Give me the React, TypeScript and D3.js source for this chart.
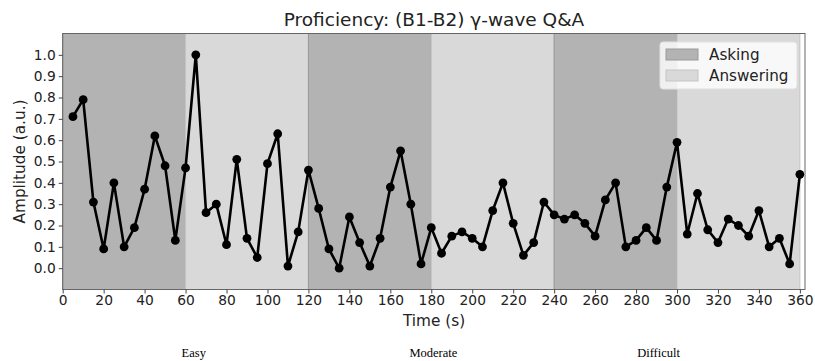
import React, { useEffect, useRef } from 'react';
import * as d3 from 'd3';

// time stamps (s) and amplitudes
const times = [5, 10, 15, 20, 25, 30, 35, 40, 45, 50, 55, 60, 65, 70, 75, 80, 85, 90, 95, 100, 105, 110, 115, 120,
  125, 130, 135, 140, 145, 150, 155, 160, 165, 170, 175, 180, 185, 190, 195, 200, 205, 210, 215, 220, 225, 230, 235, 240,
  245, 250, 255, 260, 265, 270, 275, 280, 285, 290, 295, 300, 305, 310, 315, 320, 325, 330, 335, 340, 345, 350, 355, 360];
const amplitude = [0.71, 0.79, 0.31, 0.09, 0.40, 0.10, 0.19, 0.37, 0.62, 0.48, 0.13, 0.47, 1.00, 0.26, 0.30, 0.11, 0.51, 0.14, 0.05, 0.49, 0.63, 0.01, 0.17, 0.46,
  0.28, 0.09, 0.00, 0.24, 0.12, 0.01, 0.14, 0.38, 0.55, 0.30, 0.02, 0.19, 0.07, 0.15, 0.17, 0.14, 0.10, 0.27, 0.40, 0.21, 0.06, 0.12, 0.31, 0.25,
  0.23, 0.25, 0.21, 0.15, 0.32, 0.40, 0.10, 0.13, 0.19, 0.13, 0.38, 0.59, 0.16, 0.35, 0.18, 0.12, 0.23, 0.20, 0.15, 0.27, 0.10, 0.14, 0.02, 0.44];

const phases = [
  { start: 0, end: 60, kind: 'Asking' },
  { start: 60, end: 120, kind: 'Answering' },
  { start: 120, end: 180, kind: 'Asking' },
  { start: 180, end: 240, kind: 'Answering' },
  { start: 240, end: 300, kind: 'Asking' },
  { start: 300, end: 360, kind: 'Answering' },
];
const levels = [
  { label: 'Easy', center: 64 },
  { label: 'Moderate', center: 181 },
  { label: 'Difficult', center: 291 },
];
const xTicks = d3.range(0, 361, 20);
const yTicks = d3.range(0, 11).map(d => d / 10);

const fill: Record<string, string> = { Asking: '#b3b3b3', Answering: '#d9d9d9' };
const edge: Record<string, string> = { Asking: '#999999', Answering: '#c4c4c4' };

export default function App() {
  const ref = useRef<SVGSVGElement>(null);

  useEffect(() => {
    const width = 815, height = 361;
    const margin = { top: 33.5, right: 10, bottom: 71.5, left: 62.7 };
    const svg = d3.select(ref.current);
    svg.selectAll('*').remove();
    const font = 'DejaVu Sans, sans-serif';

    const x = d3.scaleLinear().domain([0, 362.5]).range([margin.left, width - margin.right]);
    const y = d3.scaleLinear().domain([-0.1, 1.1]).range([height - margin.bottom, margin.top]);

    svg.append('rect').attr('width', width).attr('height', height).attr('fill', 'white');

    // shaded phases
    svg.append('g').selectAll('rect').data(phases).join('rect')
      .attr('x', d => x(d.start)).attr('width', d => x(d.end) - x(d.start))
      .attr('y', margin.top).attr('height', y(-0.1) - y(1.1))
      .attr('fill', d => fill[d.kind]).attr('stroke', d => edge[d.kind]).attr('stroke-width', 1);

    const line = d3.line<number>().x((_, i) => x(times[i])).y(d => y(d));
    svg.append('path').datum(amplitude).attr('d', line)
      .attr('fill', 'none').attr('stroke', 'black').attr('stroke-width', 2.6).attr('stroke-linejoin', 'round');
    svg.append('g').selectAll('circle').data(amplitude).join('circle')
      .attr('cx', (_, i) => x(times[i])).attr('cy', d => y(d)).attr('r', 4.4).attr('fill', 'black');

    // frame
    svg.append('rect').attr('x', margin.left).attr('y', margin.top)
      .attr('width', x(362.5) - margin.left).attr('height', y(-0.1) - y(1.1))
      .attr('fill', 'none').attr('stroke', '#666').attr('stroke-width', 1);

    const xAxis = svg.append('g').attr('transform', `translate(0,${height - margin.bottom})`)
      .call(d3.axisBottom(x).tickValues(xTicks).tickSize(4).tickPadding(2).tickFormat(d3.format('d')));
    const yAxis = svg.append('g').attr('transform', `translate(${margin.left},0)`)
      .call(d3.axisLeft(y).tickValues(yTicks).tickSize(4).tickPadding(3).tickFormat(d3.format('.1f')));
    [xAxis, yAxis].forEach(g => {
      g.select('.domain').remove();
      g.selectAll('.tick line').attr('stroke', '#444');
      g.selectAll('.tick text').attr('font-family', font).attr('font-size', 13.8).attr('fill', '#222');
    });

    svg.append('text').attr('x', 434).attr('y', 26).attr('text-anchor', 'middle')
      .attr('font-family', font).attr('font-size', 18.5).attr('fill', '#222')
      .text('Proficiency: (B1-B2) γ-wave Q&A');
    svg.append('text').attr('x', 434).attr('y', 326).attr('text-anchor', 'middle')
      .attr('font-family', font).attr('font-size', 15.3).attr('fill', '#222').text('Time (s)');
    svg.append('text').attr('transform', `translate(25,${(margin.top + height - margin.bottom) / 2}) rotate(-90)`)
      .attr('text-anchor', 'middle').attr('font-family', font).attr('font-size', 15.3).attr('fill', '#222')
      .text('Amplitude (a.u.)');

    // legend
    const lg = svg.append('g').attr('transform', 'translate(660,42)');
    lg.append('rect').attr('width', 137).attr('height', 47).attr('rx', 3)
      .attr('fill', 'white').attr('fill-opacity', 0.8).attr('stroke', '#e0e0e0');
    ['Asking', 'Answering'].forEach((k, i) => {
      lg.append('rect').attr('x', 6).attr('y', 7 + i * 21).attr('width', 32).attr('height', 11)
        .attr('fill', fill[k]).attr('stroke', edge[k]);
      lg.append('text').attr('x', 49).attr('y', 18 + i * 21)
        .attr('font-family', font).attr('font-size', 15.2).attr('fill', '#222').text(k);
    });

    // difficulty captions under the figure
    svg.append('g').selectAll('text').data(levels).join('text')
      .attr('x', d => x(d.center)).attr('y', 357).attr('text-anchor', 'middle')
      .attr('font-family', 'Liberation Serif, Times New Roman, serif').attr('font-size', 12.5).attr('fill', 'black')
      .text(d => d.label);
  }, []);

  return (
    <div style={{ position: 'absolute', left: 0, top: 0 }}>
      <svg ref={ref} width={815} height={361} style={{ display: 'block' }} />
    </div>
  );
}
